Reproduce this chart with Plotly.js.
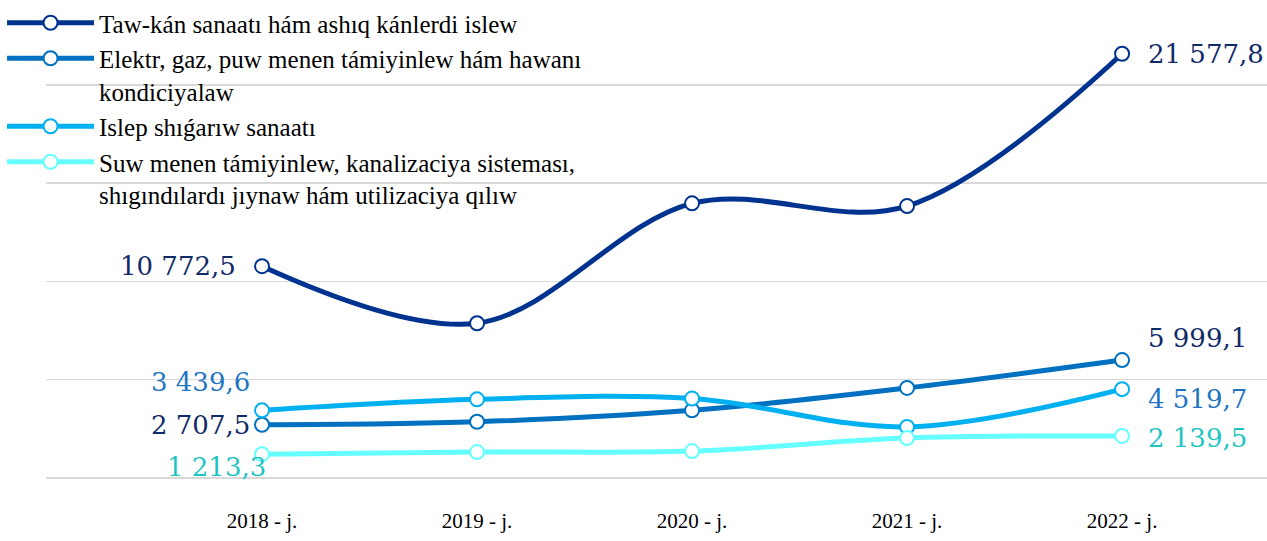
<!DOCTYPE html>
<html>
<head>
<meta charset="utf-8">
<script src="https://cdn.plot.ly/plotly-3.0.1.min.js"></script>
<style>html,body{margin:0;padding:0;background:#fff;}#chart{width:1267px;height:541px;}</style>
</head>
<body>
<div id="chart"></div>
<script>
var years = ["2018 - j.", "2019 - j.", "2020 - j.", "2021 - j.", "2022 - j."];
var seriesNames = [
  "Taw-kán sanaatı hám ashıq kánlerdi islew",
  "Elektr, gaz, puw menen támiyinlew hám hawanı<br>kondiciyalaw",
  "Islep shıǵarıw sanaatı",
  "Suw menen támiyinlew, kanalizaciya sisteması,<br>shıgındılardı jıynaw hám utilizaciya qılıw"
];
var mining        = [10772.5, 7870, 13970, 13830, 21577.8];
var electricity   = [2707.5, 2860, 3440, 4580, 5999.1];
var manufacturing = [3439.6, 4000, 4040, 2600, 4519.7];
var water         = [1213.3, 1320, 1370, 2030, 2139.5];
var seriesValues = [mining, electricity, manufacturing, water];
var lineColors = ["#00338f", "#0070c0", "#00b0f0", "#66ffff"];
var labelColors = ["#102a68", "#102a68", "#1f74c2", "#1ec4c2"];
var labelPlace = [
  [{dx:-24, dy:0, xa:"right"}, {dx:24, dy:0, xa:"left"}],
  [{dx:-10, dy:0, xa:"right"}, {dx:24, dy:22, xa:"left"}],
  [{dx:-10, dy:28, xa:"right"}, {dx:24, dy:-10, xa:"left"}],
  [{dx:6, dy:-13, xa:"right"}, {dx:24, dy:-2, xa:"left"}]
];

var fmt = function(v){
  var s = v.toFixed(1).replace(".", ",");
  var parts = s.split(",");
  var ip = parts[0].replace(/\B(?=(\d{3})+(?!\d))/g, " ");
  return ip + "," + parts[1];
};

var traces = [];
var annotations = [];
for (var i = 0; i < seriesValues.length; i++) {
  traces.push({
    type: "scatter",
    mode: "lines+markers",
    x: years,
    y: seriesValues[i],
    name: seriesNames[i],
    legendgroup: "g" + i,
    line: {color: lineColors[i], width: 5, shape: "spline", smoothing: 1},
    marker: {size: 14, color: "#ffffff", line: {color: lineColors[i], width: 2}},
    cliponaxis: false,
    hoverinfo: "skip"
  });
  var idxs = [0, years.length - 1];
  for (var k = 0; k < 2; k++) {
    var j = idxs[k];
    var p = labelPlace[i][k];
    annotations.push({
      x: years[j], y: seriesValues[i][j], xref: "x", yref: "y",
      text: fmt(seriesValues[i][j]),
      showarrow: false,
      xanchor: p.xa, yanchor: "middle",
      xshift: p.dx, yshift: p.dy,
      font: {family: "DejaVu Serif", size: 26, color: labelColors[i]}
    });
  }
}
var layout = {
  width: 1267, height: 541,
  margin: {l: 46, r: 0, t: 0, b: 63},
  paper_bgcolor: "#ffffff", plot_bgcolor: "#ffffff",
  showlegend: true,
  legend: {
    x: -0.036, y: 1, xanchor: "left", yanchor: "top",
    bgcolor: "rgba(0,0,0,0)",
    font: {family: "Liberation Serif", size: 25, color: "#000000"},
    traceorder: "grouped", tracegroupgap: 0,
    valign: "top", itemwidth: 87
  },
  xaxis: {
    type: "category",
    range: [-1.0047, 4.674],
    showgrid: false, zeroline: false, showline: false,
    ticks: "", ticklabelstandoff: 28,
    tickfont: {family: "Liberation Serif", size: 21, color: "#000000"}
  },
  yaxis: {
    range: [0, 24311],
    dtick: 5000, tick0: 0,
    showgrid: true, gridcolor: "#d9d9d9", gridwidth: 1.5,
    zeroline: true, zerolinecolor: "#d9d9d9", zerolinewidth: 1.5,
    showticklabels: false, ticks: "", showline: false
  },
  annotations: annotations
};
Plotly.newPlot("chart", traces, layout, {displayModeBar: false, staticPlot: true});
</script>
</body>
</html>
